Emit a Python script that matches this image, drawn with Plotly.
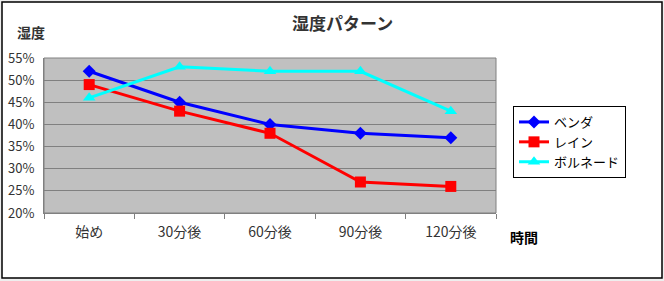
import plotly.graph_objects as go

categories = ["始め", "30分後", "60分後", "90分後", "120分後"]
benda = [0.52, 0.45, 0.40, 0.38, 0.37]
rein = [0.49, 0.43, 0.38, 0.27, 0.26]
borunedo = [0.46, 0.53, 0.52, 0.52, 0.43]
series_names = ["ベンダ", "レイン", "ボルネード"]

W, H = 664, 281
L, R, T, B = 44, 168, 58, 68
font = "Noto Sans CJK JP"

fig = go.Figure()
fig.add_trace(go.Scatter(x=categories, y=benda, name=series_names[0], mode="lines+markers",
                         line=dict(color="#0000FF", width=3),
                         marker=dict(symbol="diamond", size=10, color="#0000FF")))
fig.add_trace(go.Scatter(x=categories, y=rein, name=series_names[1], mode="lines+markers",
                         line=dict(color="#FF0000", width=3),
                         marker=dict(symbol="square", size=11, color="#FF0000")))
fig.add_trace(go.Scatter(x=categories, y=borunedo, name=series_names[2], mode="lines+markers",
                         line=dict(color="#00FFFF", width=3),
                         marker=dict(symbol="triangle-up", size=11, color="#00FFFF")))

pw, ph = W - L - R, H - T - B
def px(x):
    return (x - L) / pw
def py(y):
    return (H - B - y) / ph

fig.update_layout(
    width=W, height=H,
    margin=dict(l=L, r=R, t=T, b=B, autoexpand=False),
    paper_bgcolor="#EEEEEE",
    plot_bgcolor="rgba(0,0,0,0)",
    font=dict(family=font, size=12, color="#333333"),
    showlegend=True,
    legend=dict(x=px(513), y=py(106), xanchor="left", yanchor="top",
                bgcolor="white", bordercolor="black", borderwidth=1,
                font=dict(size=13, color="black", family=font),
                tracegroupgap=0, itemwidth=30),
    shapes=[
        dict(type="rect", xref="paper", yref="paper", layer="below",
             x0=px(2), x1=px(662), y0=py(278), y1=py(2),
             fillcolor="white", line=dict(color="black", width=1.5)),
        dict(type="rect", xref="x domain", yref="y domain", layer="below",
             x0=0, x1=1, y0=0, y1=1,
             fillcolor="#C0C0C0", line=dict(color="#808080", width=1)),
    ],
    annotations=[
        dict(text="<b>湿度パターン</b>", xref="paper", yref="paper", x=px(342), y=py(22),
             xanchor="center", yanchor="middle", showarrow=False,
             font=dict(size=17, color="#333333", family=font)),
        dict(text="<b>湿度</b>", xref="paper", yref="paper", x=px(15), y=py(32),
             xanchor="left", yanchor="middle", showarrow=False,
             font=dict(size=14, color="#333333", family=font)),
        dict(text="<b>時間</b>", xref="paper", yref="paper", x=px(508), y=py(237),
             xanchor="left", yanchor="middle", showarrow=False,
             font=dict(size=14, color="black", family=font)),
    ],
)
fig.update_xaxes(type="category", tickson="boundaries", ticks="outside", ticklen=5,
                 tickcolor="#808080", showgrid=False, showline=True, linecolor="#808080",
                 tickfont=dict(size=14, color="#333333"), range=[-0.5, 4.5],
                 ticklabelstandoff=6, automargin=False)
fig.update_yaxes(range=[0.20, 0.55], dtick=0.05, tickformat=".0%", showgrid=True,
                 gridcolor="#808080", gridwidth=1, showline=True, linecolor="#808080",
                 ticks="", tickfont=dict(size=13, color="#333333"), zeroline=False,
                 ticklabelstandoff=6, automargin=False)

fig.write_html("out.html")
